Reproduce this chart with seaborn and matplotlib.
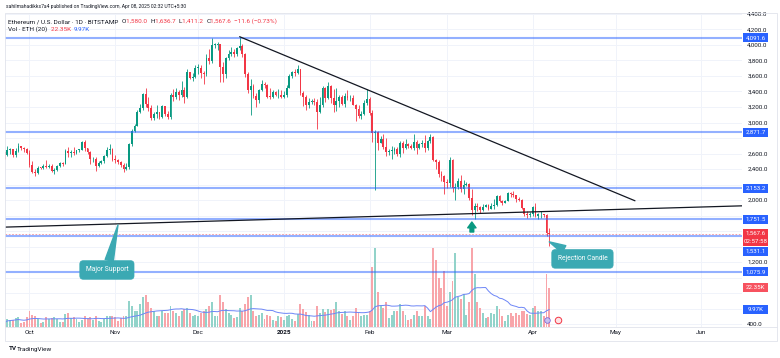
import numpy as np
import pandas as pd
import matplotlib
matplotlib.use("Agg")
import matplotlib.pyplot as plt
import matplotlib.dates as mdates
from matplotlib.transforms import blended_transform_factory
from matplotlib.patches import Rectangle
from matplotlib.lines import Line2D
import seaborn as sns

# ---------------- data ----------------
start_date = "2024-09-22"
first_open = 2616.0

close_sep = [2581, 2646, 2653, 2580, 2633, 2696, 2676, 2658, 2603]
high_sep = [2620, 2700, 2670, 2660, 2665, 2730, 2700, 2685, 2670]
low_sep = [2530, 2570, 2600, 2555, 2555, 2625, 2650, 2620, 2590]

close_oct = [2448, 2364, 2350, 2415, 2414, 2440, 2423, 2440, 2370, 2386, 2437, 2475, 2468, 2630, 2607, 2611,
             2605, 2643, 2647, 2746, 2667, 2622, 2525, 2535, 2440, 2480, 2505, 2570, 2640, 2660, 2518]
high_oct = [2640, 2500, 2400, 2440, 2430, 2460, 2520, 2470, 2460, 2415, 2450, 2490, 2490, 2660, 2690, 2640,
            2680, 2650, 2660, 2760, 2770, 2670, 2630, 2560, 2560, 2500, 2520, 2580, 2680, 2725, 2670]
low_oct = [2420, 2350, 2310, 2340, 2395, 2400, 2415, 2410, 2355, 2340, 2380, 2430, 2440, 2460, 2560, 2560,
           2580, 2590, 2620, 2640, 2630, 2590, 2470, 2495, 2380, 2430, 2470, 2480, 2550, 2600, 2500]

close_nov = [2515, 2490, 2455, 2400, 2423, 2720, 2895, 2960, 3130, 3182, 3372, 3245, 3185, 3060, 3110,
             3130, 3075, 3207, 3110, 3070, 3355, 3335, 3395, 3360, 3415, 3325, 3650, 3580, 3590, 3705]
high_nov = [2580, 2530, 2500, 2480, 2480, 2740, 2920, 2980, 3160, 3240, 3385, 3440, 3330, 3230, 3130,
            3220, 3130, 3220, 3215, 3150, 3375, 3430, 3450, 3420, 3540, 3460, 3690, 3650, 3640, 3740]
low_nov = [2480, 2470, 2430, 2365, 2390, 2400, 2700, 2880, 2950, 3120, 3160, 3200, 3150, 3030, 3030,
           3060, 3040, 3060, 3085, 3050, 3040, 3280, 3300, 3290, 3325, 3250, 3310, 3560, 3540, 3580]

close_dec = [3705, 3640, 3620, 3835, 3790, 4000, 4005, 4010, 3710, 3630, 3835, 3880, 3905, 3880, 3960, 3985,
             3890, 3630, 3420, 3475, 3340, 3285, 3420, 3495, 3490, 3335, 3330, 3395, 3350, 3355, 3330]
high_dec = [3760, 3740, 3670, 3890, 3950, 4085, 4020, 4040, 4010, 3780, 3840, 3940, 3975, 3950, 3970, 4107,
            4015, 3900, 3650, 3560, 3500, 3380, 3430, 3550, 3520, 3500, 3445, 3420, 3410, 3430, 3425]
low_dec = [3620, 3570, 3500, 3595, 3760, 3770, 3960, 3940, 3525, 3520, 3580, 3800, 3860, 3850, 3860, 3940,
           3850, 3590, 3380, 3100, 3320, 3200, 3250, 3400, 3440, 3310, 3300, 3320, 3340, 3320, 3310]

close_jan = [3355, 3450, 3605, 3655, 3635, 3685, 3380, 3325, 3220, 3265, 3280, 3265, 3135, 3225, 3450, 3310,
             3475, 3310, 3220, 3280, 3325, 3240, 3340, 3310, 3320, 3230, 3180, 3080, 3115, 3250, 3300]
high_jan = [3400, 3490, 3620, 3670, 3685, 3745, 3695, 3410, 3350, 3320, 3300, 3310, 3300, 3330, 3470, 3460,
            3525, 3490, 3430, 3450, 3350, 3360, 3380, 3420, 3350, 3350, 3240, 3230, 3150, 3290, 3430]
low_jan = [3320, 3330, 3440, 3580, 3600, 3620, 3360, 3210, 3160, 3190, 3240, 3220, 2920, 3120, 3200, 3270,
           3300, 3250, 3140, 3150, 3200, 3220, 3200, 3290, 3280, 3220, 3020, 3060, 3040, 3100, 3230]

close_feb = [3120, 2870, 2880, 2730, 2785, 2690, 2620, 2630, 2630, 2660, 2600, 2740, 2675, 2725, 2695, 2665,
             2745, 2675, 2720, 2740, 2665, 2765, 2815, 2515, 2490, 2335, 2305, 2235]
high_feb = [3330, 3160, 2900, 2890, 2825, 2850, 2800, 2660, 2700, 2690, 2690, 2760, 2760, 2790, 2740, 2720,
            2850, 2770, 2740, 2770, 2845, 2780, 2855, 2825, 2530, 2510, 2370, 2320]
low_feb = [3100, 2750, 2125, 2650, 2730, 2655, 2570, 2580, 2530, 2600, 2570, 2560, 2610, 2660, 2665, 2655,
           2640, 2600, 2660, 2690, 2620, 2650, 2740, 2500, 2400, 2300, 2240, 2080]

close_mar = [2215, 2520, 2150, 2170, 2240, 2140, 2200, 2205, 2020, 1865, 1920, 1910, 1865, 1910, 1935, 1885,
             1925, 1930, 2055, 1985, 1965, 1985, 2085, 2080, 2065, 2010, 2005, 1895, 1825, 1805, 1820]
high_mar = [2275, 2550, 2525, 2220, 2290, 2320, 2260, 2230, 2215, 2145, 1960, 1955, 1925, 1945, 1950, 1945,
            1955, 2010, 2070, 2070, 1995, 2005, 2105, 2105, 2110, 2070, 2035, 2010, 1900, 1860, 1850]
low_mar = [2160, 2170, 2100, 1995, 2140, 2105, 2080, 2180, 1995, 1810, 1755, 1860, 1830, 1860, 1905, 1870,
           1880, 1880, 1920, 1970, 1940, 1960, 1985, 2035, 2035, 1980, 1990, 1880, 1790, 1770, 1780]

close_apr = [1905, 1795, 1815, 1815, 1805, 1580, 1567.6]
high_apr = [1920, 1955, 1835, 1860, 1825, 1825, 1636.7]
low_apr = [1795, 1780, 1750, 1770, 1780, 1535, 1411.2]

vol_sep = [2.5, 4.5, 4, 4.2, 5, 5.5, 2.5, 2.8, 5.5]
vol_oct = [9, 7, 6, 4.5, 2.5, 2.8, 5.5, 4.8, 5, 5.5, 4.5, 2.8, 2.6, 7.5, 8, 5, 5.5, 4.5, 2.8, 4, 6.5, 5, 5.5,
           4, 6.5, 3.5, 2.8, 4.5, 6.5, 6, 6.5]
vol_nov = [5.5, 3.5, 5, 6, 6.5, 15, 12, 9, 9, 13, 17, 18, 14, 11, 9, 6, 6.5, 9, 8, 8, 12, 9, 8, 6, 9, 10, 11,
           8, 6.5, 7]
vol_dec = [6.5, 8, 9, 10, 12, 14, 6, 6.5, 18, 14, 10, 8, 7, 5, 5.5, 11, 9, 13, 17, 18, 9, 6, 7, 8, 4.5, 7,
           6.5, 4, 3.5, 6, 5.5]
vol_jan = [4, 6, 7, 4.5, 3.5, 7.5, 13, 10, 8.5, 7, 3.5, 3.5, 12, 8, 10, 8.5, 10, 9.5, 10, 14, 9, 7.5, 9, 6.5,
           4, 6, 11, 8, 6.5, 7, 7]
vol_feb = [9, 34, 45, 20, 12, 11, 14, 5, 7, 9, 9, 13, 9, 7, 4, 4.5, 7, 9, 6, 6.5, 12, 6, 4.5, 45, 38, 28, 22, 32]
vol_mar = [12, 20, 26, 42, 17, 16, 19, 7, 14, 45, 30, 14, 11, 8, 5, 5.5, 8, 7.5, 12, 10, 6, 3.5, 7, 8, 6.5,
           8, 7, 9, 9, 7.5, 7]
vol_apr = [11, 12, 9, 9, 6, 30, 22.35]

levels = [4091.6, 2871.7, 2153.2, 1751.5, 1531.1, 1075.9]
level_labels = ["4,091.6", "2,871.7", "2,153.2", "1,751.5", "1,531.1", "1,075.9"]
last_price = 1567.6
last_label = "1,567.6"
countdown = "02:57:58"
vol_last_label = "22.35K"
vol_ma_label = "9.97K"

resistance_dates = ["2024-12-16", "2025-05-08"]
resistance_prices = [4107, 1990]
support_dates = ["2024-09-22", "2025-06-16"]
support_prices = [1650, 1925]

arrow_date = "2025-03-10"
arrow_tip, arrow_base = 1716, 1587

callout_support = ("Major Support", "2024-10-29", 1097, "2024-11-02", 1677)
callout_reject = ("Rejection Candle", "2025-04-19", 1240, "2025-04-07", 1460)

month_ticks = ["2024-10-01", "2024-11-01", "2024-12-01", "2025-01-01", "2025-02-01",
               "2025-03-01", "2025-04-01", "2025-05-01", "2025-06-01"]
month_labels = ["Oct", "Nov", "Dec", "2025", "Feb", "Mar", "Apr", "May", "Jun"]
price_ticks = list(range(400, 4401, 200))

header_user = "sahilmahadikks7a4 published on TradingView.com, Apr 08, 2025 02:32 UTC+5:30"
header_symbol = "Ethereum / U.S. Dollar · 1D · BITSTAMP"
header_ohlc = [("O", "1,580.0"), ("H", "1,636.7"), ("L", "1,411.2"), ("C", "1,567.6")]
header_change = "−11.6 (−0.73%)"
header_vol = "Vol · ETH (20)"

# ---------------- assemble ----------------
close = close_sep + close_oct + close_nov + close_dec + close_jan + close_feb + close_mar + close_apr
high = high_sep + high_oct + high_nov + high_dec + high_jan + high_feb + high_mar + high_apr
low = low_sep + low_oct + low_nov + low_dec + low_jan + low_feb + low_mar + low_apr
vol = vol_sep + vol_oct + vol_nov + vol_dec + vol_jan + vol_feb + vol_mar + vol_apr
opn = [first_open] + close[:-1]

dates = pd.date_range(start_date, periods=len(close), freq="D")
df = pd.DataFrame({"date": dates, "open": opn, "high": high, "low": low, "close": close, "vol": vol})
df["x"] = mdates.date2num(df["date"])
df["up"] = df["close"] >= df["open"]
df["ma"] = df["vol"].rolling(20, min_periods=1).mean()

UP, DOWN = "#089981", "#F23645"
UP_V, DOWN_V = "#92d3ca", "#f8a5aa"
TEAL = "#3ba9b3"
TXT = "#131722"
BLUE = "#2962FF"

sns.set_theme(style="white")
plt.rcParams["font.family"] = ["Roboto", "DejaVu Sans"]
plt.rcParams["axes.unicode_minus"] = True

W, H = 780, 358
L_, R_, T_, B_ = 5, 742, 13, 327
fig = plt.figure(figsize=(W / 100, H / 100), dpi=100)
fig.patch.set_facecolor("white")

pos = [L_ / W, 1 - B_ / H, (R_ - L_) / W, (B_ - T_) / H]
ax_vol = fig.add_axes(pos)
ax = ax_vol.twinx()

x0 = mdates.date2num(pd.Timestamp("2024-09-22 03:20"))
x1 = mdates.date2num(pd.Timestamp("2025-06-15 17:00"))
ax_vol.set_xlim(x0, x1)
ax.set_xlim(x0, x1)
ax.set_ylim(361.3, 4412.9)
ax_vol.set_ylim(0, 179.4)

for a in (ax, ax_vol):
    for s in a.spines.values():
        s.set_visible(False)
ax_vol.set_facecolor("white")

# grid
mx = mdates.date2num(pd.to_datetime(month_ticks))
ax_vol.vlines(mx, 0, 1, transform=blended_transform_factory(ax_vol.transData, ax_vol.transAxes),
              color="#f0f3fa", lw=0.7, zorder=0)
ax_vol.hlines(price_ticks, 0, 1, transform=blended_transform_factory(ax_vol.transAxes, ax.transData),
              color="#f0f3fa", lw=0.7, zorder=0)

# volume
ax_vol.bar(df["x"], df["vol"], width=0.7, color=np.where(df["up"], UP_V, DOWN_V), linewidth=0, zorder=1)
sns.lineplot(data=df, x="x", y="ma", ax=ax_vol, color="#6d86f7", lw=0.7, zorder=2)
ax_vol.set_xlabel("")
ax_vol.set_ylabel("")
ax_vol.set_yticks([])
ax_vol.set_xticks(mx)
ax_vol.set_xticklabels(month_labels)
ax_vol.tick_params(axis="x", length=0, pad=2.5, labelsize=4.6, labelcolor=TXT)
for t in ax_vol.get_xticklabels():
    if t.get_text() == "2025":
        t.set_fontweight("bold")

# event icons near last bar
ax_vol.scatter([mdates.date2num(pd.Timestamp("2025-04-06"))], [4], s=16, marker="o",
               fc="#c9c2f0", ec="#6f5bd8", lw=0.5, zorder=6)
ax_vol.scatter([mdates.date2num(pd.Timestamp("2025-04-10"))], [4], s=22, marker="o",
               fc="#fde4e6", ec="#F23645", lw=0.7, zorder=6)

# candles
ccol = np.where(df["up"], UP, DOWN)
ax.vlines(df["x"], df["low"], df["high"], colors=ccol, lw=0.6, zorder=3)
body_lo = np.minimum(df["open"], df["close"])
body_h = np.maximum(np.abs(df["close"] - df["open"]), 10)
ax.bar(df["x"], body_h, bottom=body_lo, width=0.66, color=ccol, linewidth=0, zorder=3.1)

# horizontal levels
ax.hlines(levels, x0, x1, color=BLUE, alpha=0.5, lw=1.5, zorder=4)
ax.axhline(last_price, color=DOWN, lw=0.6, ls=(0, (2, 2)), alpha=0.55, zorder=4)

# trend lines
ax.plot(mdates.date2num(pd.to_datetime(resistance_dates)), resistance_prices, color=TXT, lw=0.9, zorder=5)
ax.plot(mdates.date2num(pd.to_datetime(support_dates)), support_prices, color=TXT, lw=0.9, zorder=5)

# arrow
xa = mdates.date2num(pd.Timestamp(arrow_date))
ax.annotate("", xy=(xa, arrow_tip), xytext=(xa, arrow_base),
            arrowprops=dict(arrowstyle="simple,head_length=0.7,head_width=1.0,tail_width=0.45",
                            color=UP, shrinkA=0, shrinkB=0, mutation_scale=6), zorder=6)

# callouts
for text, bd, bp, ad, ap in (callout_support, callout_reject):
    ax.annotate(text, xy=(mdates.date2num(pd.Timestamp(ad)), ap),
                xytext=(mdates.date2num(pd.Timestamp(bd)), bp),
                ha="center", va="center", fontsize=4.9, color="white", zorder=7,
                bbox=dict(boxstyle="round,pad=0.85,rounding_size=0.5", fc=TEAL, ec=TEAL, lw=0.5),
                arrowprops=dict(arrowstyle="wedge,tail_width=0.6,shrink_factor=0.5", fc=TEAL, ec=TEAL,
                                shrinkA=0, shrinkB=0, mutation_scale=10, connectionstyle="arc3"))


# ---------- right-side price labels ----------
def ypix(a, v):
    return H - a.transData.transform((x0, v))[1]


boxes = []  # (center_y_px, lines, color, height)
for lv, lab in zip(levels, level_labels):
    if lab == level_labels[4]:
        continue
    boxes.append((ypix(ax, lv), [lab], BLUE, 9))
yr = ypix(ax, last_price)
boxes.append((yr + 4, [last_label, countdown], DOWN, 17))
boxes.append((yr + 4 + 8.5 + 5, [level_labels[4]], BLUE, 9))
boxes.append((ypix(ax_vol, vol[-1]), [vol_last_label], "#F7525F", 9))
boxes.append((ypix(ax_vol, df["ma"].iloc[-1]), [vol_ma_label], BLUE, 9))

text_rows = []
for yc, lines, fc, h in boxes:
    n = len(lines)
    for i in range(n):
        text_rows.append(yc - (n - 1) * 4 + i * 8)

# price axis ticks: hide labels that the boxes cover (as TradingView does)
ax.set_yticks(price_ticks)
tick_labels = []
for v in price_ticks:
    yp = ypix(ax, v)
    hidden = any(abs(yp - r) < 6.6 for r in text_rows)
    tick_labels.append("" if hidden else f"{v:,.1f}")
ax.set_yticklabels(tick_labels)
ax.tick_params(axis="y", length=0, pad=3.8, labelsize=4.5, labelcolor=TXT)

for yc, lines, fc, h in boxes:
    fig.add_artist(Rectangle((743 / W, 1 - (yc + h / 2) / H), 25 / W, h / H, transform=fig.transFigure,
                             fc=fc, ec="none", zorder=5))
    n = len(lines)
    for i, s in enumerate(lines):
        yy = yc - (n - 1) * 4 + i * 8
        fig.text(755.5 / W, 1 - yy / H, s, ha="center", va="center", fontsize=4.4, color="white", zorder=6)

# frame
fig.add_artist(Rectangle((5 / W, 1 - 341 / H), 772 / W, 328 / H, transform=fig.transFigure,
                         fill=False, ec="#e0e3eb", lw=0.6))
fig.add_artist(Line2D([5 / W, 777 / W], [1 - B_ / H] * 2, transform=fig.transFigure, color="#e0e3eb", lw=0.6))

# header
renderer = fig.canvas.get_renderer()


def write_runs(xp, yp, runs, size):
    x = xp
    for s, col in runs:
        t = fig.text(x / W, 1 - yp / H, s, fontsize=size, color=col, ha="left", va="center")
        x += t.get_window_extent(renderer=renderer).width


write_runs(6, 6.5, [(header_user, TXT)], 3.6)
runs = [(header_symbol + "  ", TXT)]
for k, v in header_ohlc:
    runs += [(k, TXT), (v + "  ", DOWN)]
runs += [(header_change, DOWN)]
write_runs(8, 21.5, runs, 4.6)
write_runs(8, 29.5, [(header_vol + "  ", TXT), (vol_last_label + "  ", DOWN), (vol_ma_label, BLUE)], 4.6)

fig.text(9 / W, 1 - 349 / H, "TV", fontsize=4.6, color=TXT, ha="left", va="center", fontweight="bold")
fig.text(17 / W, 1 - 349 / H, "TradingView", fontsize=4.6, color=TXT, ha="left", va="center")

fig.savefig("out.png", dpi=100, facecolor="white")
